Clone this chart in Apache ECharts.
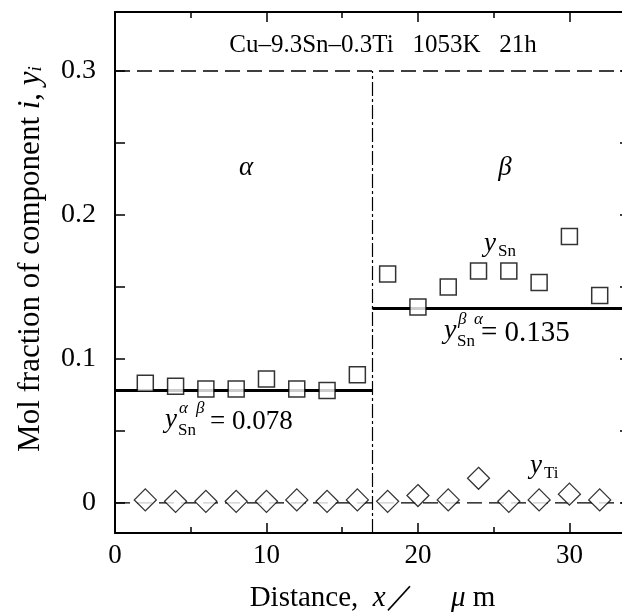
<!DOCTYPE html>
<html>
<head>
<meta charset="utf-8">
<script src="https://cdn.jsdelivr.net/npm/echarts@6/dist/echarts.min.js"></script>
<style>
  html, body { margin: 0; padding: 0; background: #fff; }
  #chart { width: 622px; height: 612px; }
</style>
</head>
<body>
<div id="chart"></div>
<script>
// measured points, x in um
const distance = [2, 4, 6, 8, 10, 12, 14, 16, 18, 20, 22, 24, 26, 28, 30, 32];
const ySn = [0.083, 0.081, 0.079, 0.079, 0.086, 0.079, 0.078, 0.089,
             0.159, 0.136, 0.150, 0.161, 0.161, 0.153, 0.185, 0.144];
const yTi = [0.002, 0.001, 0.001, 0.001, 0.001, 0.002, 0.001, 0.002,
             0.001, 0.005, 0.002, 0.017, 0.001, 0.002, 0.006, 0.002];

const boundaryX = 17;          // alpha / beta interface
const ySnAlphaBeta = 0.078;    // equilibrium on alpha side
const ySnBetaAlpha = 0.135;    // equilibrium on beta side
const yTop = 0.3;              // dashed reference line
const xMin = 0, xMax = 34;
const yMin = -0.021, yMax = 0.341;
const yTickValues = [0, 0.05, 0.1, 0.15, 0.2, 0.25, 0.3];
const yLabelValues = [0, 0.1, 0.2, 0.3];

const FONT = '"Liberation Serif", "DejaVu Serif", serif';
const chart = echarts.init(document.getElementById('chart'));

const pairs = (ys) => distance.map((x, i) => [x, ys[i]]);

function txt(x, y, s, size, italic, align) {
  return {
    type: 'text', x: x, y: y, z: 10,
    style: {
      text: s,
      font: (italic ? 'italic ' : '') + size + 'px ' + FONT,
      fill: '#000',
      textAlign: align || 'left',
      textVerticalAlign: 'middle'
    }
  };
}

const xAxisBase = {
  type: 'value', min: xMin, max: xMax, interval: 10,
  axisLine: { onZero: false, lineStyle: { color: '#000', width: 2 } },
  axisTick: { inside: true, length: 10, lineStyle: { color: '#000', width: 1.5 } },
  minorTick: { show: true, splitNumber: 2, length: 6, lineStyle: { color: '#000', width: 1.5 } },
  splitLine: { show: false }
};
const yAxisBase = {
  type: 'value', min: yMin, max: yMax,
  axisLine: { onZero: false, lineStyle: { color: '#000', width: 2 } },
  axisTick: { inside: true, length: 10, customValues: yTickValues, lineStyle: { color: '#000', width: 1.5 } },
  splitLine: { show: false }
};

chart.setOption({
  animation: false,
  backgroundColor: '#fff',
  grid: { left: 115, right: -8, top: 12, bottom: 79, containLabel: false, outerBoundsMode: 'none' },
  xAxis: [
    Object.assign({}, xAxisBase, {
      position: 'bottom',
      axisLabel: { color: '#000', fontFamily: FONT, fontSize: 27, margin: 9, showMaxLabel: false },
      name: 'Distance,  {i|x}\uFF0F     {i|\u03BC} m',
      nameLocation: 'middle',
      nameGap: 51,
      nameTextStyle: {
        color: '#000', fontFamily: FONT, fontSize: 29,
        rich: { i: { fontStyle: 'italic', fontFamily: FONT, fontSize: 29, color: '#000' } }
      }
    }),
    Object.assign({}, xAxisBase, { position: 'top', axisLabel: { show: false } })
  ],
  yAxis: [
    Object.assign({}, yAxisBase, {
      position: 'left',
      axisLabel: {
        color: '#000', fontFamily: FONT, fontSize: 28, margin: 19,
        customValues: yLabelValues,
        formatter: (v) => (v === 0 ? '0' : v.toFixed(1))
      }
    }),
    Object.assign({}, yAxisBase, { position: 'right', axisLabel: { show: false } })
  ],
  series: [
    {
      type: 'line', z: 2, symbol: 'none', silent: true,
      data: [[xMin, yTop], [xMax, yTop]],
      lineStyle: { color: '#000', width: 1.5, type: [15, 7] }
    },
    {
      type: 'line', z: 2, symbol: 'none', silent: true,
      data: [[boundaryX, yMin], [boundaryX, yTop]],
      lineStyle: { color: '#000', width: 1.2, type: [14, 3, 3, 3] }
    },
    {
      type: 'line', z: 2, symbol: 'none', silent: true,
      data: [[xMin, 0], [xMax, 0]],
      lineStyle: { color: '#000', width: 1.3, type: [15, 7] }
    },
    {
      type: 'line', z: 2, symbol: 'none', silent: true,
      data: [[xMin, ySnAlphaBeta], [boundaryX, ySnAlphaBeta]],
      lineStyle: { color: '#000', width: 3 }
    },
    {
      type: 'line', z: 2, symbol: 'none', silent: true,
      data: [[boundaryX, ySnBetaAlpha], [xMax, ySnBetaAlpha]],
      lineStyle: { color: '#000', width: 3 }
    },
    {
      name: 'ySn', type: 'scatter', z: 3, symbol: 'rect', symbolSize: 16,
      data: pairs(ySn),
      itemStyle: { color: '#fff', borderColor: '#000', borderWidth: 1.5 }
    },
    {
      name: 'yTi', type: 'scatter', z: 3, symbol: 'diamond', symbolSize: 22,
      data: pairs(yTi),
      itemStyle: { color: '#fff', borderColor: '#000', borderWidth: 1.3 }
    }
  ],
  graphic: [
    {
      // y axis title, rotated
      type: 'text', x: 31, y: 259, rotation: Math.PI / 2, z: 10,
      style: {
        text: 'Mol fraction of component {i|i}, {i|y}{s|i}',
        font: '31px ' + FONT,
        fill: '#000',
        textAlign: 'center',
        textVerticalAlign: 'middle',
        rich: {
          i: { fontStyle: 'italic', fontFamily: FONT, fontSize: 31, fill: '#000' },
          s: { fontStyle: 'italic', fontFamily: FONT, fontSize: 19, fill: '#000', padding: [10, 0, 0, 0] }
        }
      }
    },
    txt(383, 45, 'Cu\u20139.3Sn\u20130.3Ti   1053K   21h', 25, false, 'center'),
    txt(246, 168, '\u03B1', 27, true, 'center'),
    txt(505, 168, '\u03B2', 27, true, 'center'),
    // y_Sn
    txt(484, 244, 'y', 27, true),
    txt(498, 252, 'Sn', 17, false),
    // y_Sn^{beta alpha} = 0.135
    txt(444, 331, 'y', 28, true),
    txt(457, 342, 'Sn', 17, false),
    txt(458, 320, '\u03B2', 17, true),
    txt(474, 320, '\u03B1', 17, true),
    txt(481, 333, '= 0.135', 29, false),
    // y_Sn^{alpha beta} = 0.078
    txt(165, 420, 'y', 27, true),
    txt(178, 431, 'Sn', 17, false),
    txt(179, 409, '\u03B1', 17, true),
    txt(196, 409, '\u03B2', 17, true),
    txt(210, 422, '= 0.078', 27, false),
    // y_Ti
    txt(530, 466, 'y', 27, true),
    txt(544, 474, 'Ti', 17, false)
  ]
});
</script>
</body>
</html>
